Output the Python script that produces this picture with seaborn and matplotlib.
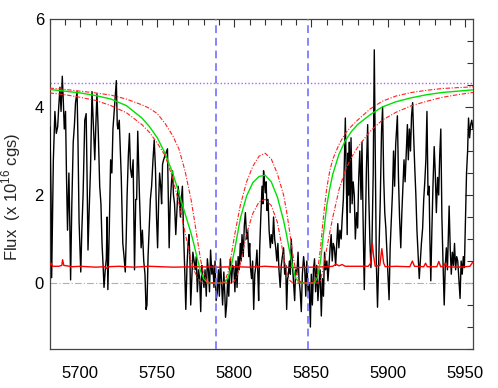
import matplotlib
matplotlib.use("Agg")
import matplotlib.pyplot as plt
import seaborn as sns
from matplotlib.ticker import MultipleLocator

# ---------------- data ----------------
wave = [5680.3, 5681.0, 5681.4, 5682.0, 5682.5, 5683.5, 5684.4, 5685.3, 5686.0, 5686.8,
        5687.5, 5688.3, 5689.0, 5689.6, 5690.4, 5691.0, 5691.7, 5692.6, 5693.2, 5693.7,
        5694.5, 5695.4, 5696.2, 5696.9, 5697.9, 5698.5, 5699.2, 5700.3, 5701.0, 5701.8,
        5702.9, 5703.8, 5704.4, 5705.0, 5705.8, 5706.6, 5707.6, 5708.5, 5709.4, 5710.1,
        5710.8, 5711.7, 5712.6, 5713.4, 5714.1, 5714.8, 5715.4, 5716.2, 5716.9, 5717.4,
        5717.9, 5718.8, 5719.7, 5720.5, 5721.2, 5722.3, 5723.4, 5724.0, 5724.4, 5725.3,
        5726.0, 5726.6, 5727.6, 5728.4, 5729.2, 5729.8, 5730.4, 5731.2, 5731.9, 5732.6,
        5733.4, 5734.3, 5735.2, 5736.0, 5736.6, 5737.3, 5738.4, 5739.5, 5740.3, 5741.2,
        5742.0, 5742.7, 5743.3, 5744.0, 5744.8, 5745.5, 5746.3, 5747.2, 5748.0, 5748.8,
        5749.5, 5750.2, 5750.9, 5751.5, 5752.2, 5752.8, 5753.4, 5754.1, 5755.0, 5755.6,
        5756.6, 5757.2, 5757.7, 5758.4, 5759.2, 5759.9, 5760.5, 5761.2, 5762.0, 5762.8,
        5763.5, 5764.2, 5765.0, 5765.6, 5766.3, 5767.0, 5767.8, 5768.5, 5769.3, 5770.0,
        5770.6, 5771.2, 5771.7, 5772.4, 5773.1, 5773.9, 5774.6, 5775.3, 5776.0, 5776.8,
        5777.5, 5778.2, 5778.9, 5779.6, 5780.3, 5781.0, 5781.8, 5782.5, 5783.2, 5783.9,
        5784.6, 5785.4, 5786.1, 5786.8, 5787.5, 5788.2, 5789.0, 5789.7, 5790.3, 5791.0,
        5791.7, 5792.4, 5793.2, 5793.9, 5794.3, 5795.0, 5795.7, 5796.4, 5797.0, 5797.5,
        5798.2, 5798.9, 5799.7, 5800.4, 5801.1, 5801.8, 5802.5, 5803.2, 5803.9, 5804.5,
        5805.0, 5805.8, 5806.5, 5807.2, 5808.0, 5808.7, 5809.4, 5810.0, 5810.5, 5811.2,
        5811.9, 5812.6, 5813.3, 5814.0, 5814.7, 5815.3, 5815.8, 5816.5, 5817.2, 5818.0,
        5818.6, 5819.0, 5819.6, 5820.1, 5820.7, 5821.2, 5821.9, 5822.6, 5823.4, 5824.0,
        5824.8, 5825.5, 5826.2, 5826.9, 5827.6, 5828.3, 5829.0, 5829.8, 5830.5, 5831.2,
        5832.0, 5832.7, 5833.4, 5834.0, 5834.6, 5835.0, 5835.8, 5836.4, 5837.0, 5837.6,
        5838.3, 5839.2, 5839.8, 5840.6, 5841.4, 5842.0, 5842.8, 5843.5, 5844.2, 5845.0,
        5845.7, 5846.4, 5847.1, 5847.9, 5848.6, 5849.4, 5850.0, 5850.7, 5851.4, 5852.1,
        5852.8, 5853.5, 5854.3, 5855.0, 5855.7, 5856.5, 5857.2, 5857.9, 5858.6, 5859.3,
        5860.1, 5860.8, 5861.5, 5862.2, 5862.9, 5863.6, 5864.3, 5865.0, 5865.8, 5866.5,
        5867.2, 5867.9, 5868.6, 5869.4, 5870.1, 5870.8, 5871.5, 5872.1, 5872.8, 5873.3,
        5873.7, 5874.2, 5874.7, 5875.2, 5875.8, 5876.5, 5877.2, 5877.9, 5878.6, 5879.4,
        5880.1, 5880.8, 5881.5, 5882.3, 5882.9, 5883.6, 5884.4, 5885.1, 5885.8, 5886.6,
        5887.3, 5888.0, 5888.7, 5889.4, 5890.2, 5890.9, 5891.5, 5892.2, 5893.0, 5893.6,
        5894.1, 5894.8, 5895.6, 5896.3, 5897.0, 5897.7, 5898.4, 5899.1, 5899.8, 5900.5,
        5901.2, 5902.0, 5902.7, 5903.4, 5904.1, 5904.8, 5905.9, 5906.6, 5907.3, 5908.1,
        5908.8, 5909.5, 5910.2, 5910.9, 5911.7, 5912.4, 5913.0, 5913.7, 5914.4, 5915.1,
        5915.8, 5916.5, 5917.2, 5917.9, 5918.6, 5919.4, 5920.1, 5920.8, 5921.5, 5922.3,
        5923.0, 5923.7, 5924.4, 5925.1, 5925.8, 5926.5, 5927.0, 5927.6, 5928.3, 5929.0,
        5929.8, 5930.5, 5931.2, 5932.0, 5932.7, 5933.4, 5934.1, 5934.8, 5935.5, 5936.3,
        5937.0, 5937.7, 5938.4, 5939.0, 5939.5, 5940.2, 5940.9, 5941.6, 5942.3, 5943.0,
        5943.7, 5944.4, 5945.1, 5945.8, 5946.6, 5947.3, 5948.0, 5948.7, 5949.4, 5950.1,
        5950.8, 5951.5, 5952.1, 5952.8, 5953.5, 5954.2, 5955.0]
flux = [3.55, 2.0, 0.12, 1.5, 2.8, 3.9, 3.4, 3.55, 4.0, 4.45,
        3.9, 4.7, 4.1, 3.5, 3.9, 2.5, 1.2, 2.5, 1.3, 0.07,
        1.8, 3.2, 3.6, 4.1, 4.35, 3.2, 1.4, 0.25, 1.2, 2.0,
        3.7, 3.85, 2.4, 0.75, 1.7, 2.55, 4.35, 3.6, 2.8, 3.6,
        4.3, 3.4, 2.2, 1.8, 0.9, 0.4, -0.1, 0.3, 0.55, 1.5,
        -0.15, 1.2, 2.8, 2.5, 3.5, 4.05, 4.6, 3.6, 3.5, 3.7,
        3.0, 2.4, 0.9, 0.6, 0.25, 1.0, 2.0, 2.9, 3.4, 2.6,
        2.4, 2.8, 0.3, 1.9, 1.9, 3.45, 2.0, 0.8, 1.2, 0.5,
        0.2, -0.6, -0.5, 0.6, 1.3, 1.9, 2.2, 2.8, 3.25, 2.6,
        1.5, 0.8, 1.9, 2.5, 2.2, 1.8, 2.7, 2.8, 2.9, 2.95,
        3.05, 1.8, 0.8, 1.8, 2.3, 2.55, 2.0, 1.8, 1.1, 1.7,
        2.2, 2.0, 1.5, 1.9, 2.2, 1.2, 0.3, -0.6, 0.4, 0.9,
        1.1, 0.5, -0.5, 0.1, 0.7, 0.5, 0.3, 0.6, -0.2, 0.3,
        0.1, -0.65, 0.4, 0.1, -0.1, 0.3, -0.3, 0.55, 0.3, -0.2,
        0.75, 0.2, 0.4, -0.1, 0.5, -0.4, -0.2, 0.3, -0.3, 0.55,
        0.0, -0.5, 0.25, -0.3, -0.78, -0.5, 0.1, -0.3, 0.3, 0.55,
        0.0, 0.4, 0.35, -0.2, 0.5, -0.1, 0.6, 0.3, 0.9, 0.5,
        1.1, 0.6, 1.3, 1.6, 1.0, 1.2, 0.6, 0.9, 0.35, 0.1,
        0.5, -0.6, 0.2, 0.4, 0.75, 0.2, -0.4, 0.8, 1.5, 2.2,
        1.8, 2.55, 2.3, 2.05, 2.3, 1.65, 1.9, 1.2, 0.8, 1.1,
        0.9, 1.5, 1.0, 0.8, 0.5, 0.9, 0.3, -0.1, 0.4, 0.6,
        0.8, 0.2, 0.4, -0.6, 0.1, 0.15, 0.5, 0.2, 1.0, 0.5,
        0.1, -0.4, 0.3, 0.2, 0.7, 0.1, -0.2, -0.65, 0.2, 0.6,
        0.35, -0.3, 0.5, -0.2, 0.0, -1.0, 0.2, -0.5, 0.3, 0.55,
        -0.2, 0.4, -0.4, 0.0, 0.3, -0.75, 0.1, -0.3, 0.7, 0.3,
        0.5, 0.05, 0.4, 0.8, 1.1, 0.5, 0.9, 0.8, 0.4, 0.9,
        1.35, 0.8, 1.2, 1.0, 1.5, 1.9, 2.8, 3.75, 2.2, 1.1,
        2.95, 2.0, 3.2, 1.6, 3.3, 1.8, 2.3, 2.0, 1.0, 1.6,
        1.25, 2.4, 3.0, 1.9, 3.2, 1.5, -0.15, 1.2, 2.6, 3.6,
        2.0, 1.0, 0.35, 0.9, 2.5, 5.3, 3.0, 0.5, -0.55, 0.3,
        1.1, 1.9, 3.45, 4.0, 2.4, 1.6, 1.25, 0.7, 0.2, -0.38,
        0.8, 1.5, 2.05, 3.0, 2.2, 3.15, 3.8, 2.4, 1.5, 0.8,
        1.6, 2.2, 2.8, 2.3, 3.0, 3.6, 2.8, 3.5, 3.0, 3.8,
        4.1, 3.3, 2.6, 2.0, 1.2, 0.6, 0.1, 0.5, 0.9, 1.25,
        1.9, 2.3, 2.8, 3.9, 2.0, 2.2, 1.0, 0.05, 1.2, 2.2,
        3.1, 2.5, 1.6, 2.4, 2.0, 2.9, 3.5, 1.5, 0.5, -0.5,
        0.4, 0.8, 0.3, 1.1, 1.75, 0.8, 0.2, 0.7, 0.4, 0.9,
        0.3, 0.6, 0.5, 0.1, -0.35, 0.5, 0.2, 0.6, 0.35, 1.4,
        2.5, 3.0, 3.75, 3.3, 3.6, 3.7, 3.5]

model_wave = [5680, 5690, 5700, 5710, 5720, 5730, 5740, 5745, 5750, 5755,
              5760, 5764, 5768, 5772, 5774, 5776, 5778, 5780, 5782, 5784,
              5788, 5792, 5794, 5796, 5798, 5800, 5802, 5804, 5808, 5812,
              5816, 5820, 5824, 5828, 5832, 5834, 5836, 5838, 5840, 5842,
              5844, 5848, 5852, 5854, 5856, 5858, 5860, 5862, 5864, 5868,
              5872, 5876, 5880, 5888, 5896, 5905, 5915, 5925, 5935, 5945,
              5955]
model_best = [4.40, 4.36, 4.32, 4.26, 4.18, 4.03, 3.75, 3.55, 3.30, 2.95,
              2.50, 2.05, 1.58, 1.12, 0.85, 0.55, 0.28, 0.10, 0.03, 0.0,
              0.0, 0.0, 0.02, 0.12, 0.38, 0.72, 1.10, 1.48, 1.98, 2.28,
              2.42, 2.45, 2.30, 1.95, 1.42, 1.08, 0.70, 0.35, 0.10, 0.02,
              0.0, 0.0, 0.0, 0.12, 0.50, 1.15, 1.75, 2.15, 2.48, 2.93,
              3.23, 3.44, 3.60, 3.82, 4.00, 4.12, 4.21, 4.28, 4.33, 4.36,
              4.39]
model_high = [4.43, 4.40, 4.36, 4.32, 4.27, 4.18, 4.05, 3.97, 3.85, 3.63,
              3.35, 3.05, 2.55, 1.88, 1.45, 1.00, 0.55, 0.22, 0.06, 0.01,
              0.0, 0.0, 0.05, 0.25, 0.62, 1.05, 1.42, 1.78, 2.30, 2.65,
              2.88, 2.95, 2.82, 2.48, 2.00, 1.62, 1.15, 0.65, 0.25, 0.06,
              0.01, 0.0, 0.02, 0.25, 0.80, 1.55, 2.15, 2.55, 2.82, 3.15,
              3.40, 3.56, 3.70, 3.95, 4.13, 4.25, 4.33, 4.38, 4.42, 4.44,
              4.46]
model_low = [4.32, 4.28, 4.22, 4.15, 4.03, 3.87, 3.60, 3.42, 3.18, 2.90,
             2.38, 1.82, 1.15, 0.50, 0.28, 0.12, 0.04, 0.0, 0.0, 0.0,
             0.0, 0.0, 0.0, 0.0, 0.0, 0.04, 0.18, 0.45, 1.12, 1.58,
             1.84, 1.90, 1.76, 1.38, 0.62, 0.25, 0.06, 0.0, 0.0, 0.0,
             0.0, 0.0, 0.0, 0.0, 0.06, 0.38, 0.78, 1.15, 1.50, 2.12,
             2.55, 2.85, 3.08, 3.44, 3.70, 3.88, 4.03, 4.13, 4.22, 4.28,
             4.33]

err_wave = [5680, 5681, 5682, 5686, 5688, 5688.5, 5689.3, 5695, 5700, 5710,
            5716, 5717, 5718, 5725, 5735, 5745, 5760, 5775, 5790, 5800,
            5810, 5820, 5830, 5840, 5850, 5860, 5864, 5866, 5868, 5870,
            5872, 5880, 5887, 5888.5, 5889.6, 5890.5, 5891.5, 5894.5, 5895.8, 5897,
            5898, 5905, 5914, 5915.6, 5917, 5923, 5924.2, 5925.3, 5931.5, 5932.8,
            5934, 5936, 5937, 5938, 5945, 5950, 5953, 5955]
err_flux = [0.40, 0.45, 0.38, 0.38, 0.40, 0.53, 0.40, 0.37, 0.38, 0.36,
            0.37, 0.33, 0.37, 0.38, 0.36, 0.38, 0.36, 0.37, 0.36, 0.37,
            0.36, 0.38, 0.36, 0.35, 0.36, 0.37, 0.38, 0.43, 0.39, 0.42,
            0.38, 0.38, 0.38, 0.45, 0.90, 0.60, 0.38, 0.40, 0.78, 0.45,
            0.37, 0.38, 0.37, 0.50, 0.38, 0.37, 0.45, 0.37, 0.37, 0.49,
            0.37, 0.38, 0.45, 0.37, 0.36, 0.37, 0.38, 0.48]

line_centers = [5788, 5848]
continuum_level = 4.55
x_ticks = [5700, 5750, 5800, 5850, 5900, 5950]
x_tick_labels = ["5700", "5750", "5800", "5850", "5900", "5950"]
y_ticks = [0, 2, 4, 6]
y_tick_labels = ["0", "2", "4", "6"]
y_label = "Flux  (x 10$^{16}$ cgs)"

# ---------------- plotting ----------------
sns.set_style("white")
plt.rcParams['font.family'] = ['Liberation Sans', 'DejaVu Sans']
plt.rcParams['mathtext.fontset'] = 'custom'
plt.rcParams['mathtext.rm'] = 'Liberation Sans'

fig = plt.figure(figsize=(4.98, 3.88), dpi=100)
ax = fig.add_axes([0.0994, 0.1005, 0.8504, 0.8505])

ax.axhline(0, color='#b0b0b0', lw=0.8, ls=(0, (6, 2, 1, 2)), zorder=1)
ax.axhline(continuum_level, color='#b060ff', lw=1.0, ls=(0, (1, 1.5)), zorder=2)

sns.lineplot(x=wave, y=flux, ax=ax, color='black', lw=1.0,
             estimator=None, sort=False, legend=False, zorder=3)
sns.lineplot(x=err_wave, y=err_flux, ax=ax, color='#ff0000', lw=1.0,
             estimator=None, sort=False, legend=False, zorder=4)
sns.lineplot(x=model_wave, y=model_best, ax=ax, color='#00e000', lw=1.0,
             estimator=None, sort=False, legend=False, zorder=5)
for m in (model_high, model_low):
    sns.lineplot(x=model_wave, y=m, ax=ax, color='#ff2020', lw=0.8,
                 linestyle=(0, (4, 1.5, 1, 1.5)),
                 estimator=None, sort=False, legend=False, zorder=5)
for c in line_centers:
    ax.axvline(c, color='#7070ff', lw=1.4, ls=(0, (4, 2.5)), alpha=0.85, zorder=6)

ax.set_xlim(5680, 5955)
ax.set_ylim(-1.5, 6)
ax.set_xticks(x_ticks)
ax.set_xticklabels(x_tick_labels)
ax.set_yticks(y_ticks)
ax.set_yticklabels(y_tick_labels)
ax.xaxis.set_minor_locator(MultipleLocator(10))
ax.yaxis.set_minor_locator(MultipleLocator(0.5))
ax.tick_params(which='both', direction='in', top=True, right=True,
               color='#333333', labelsize=12, labelcolor='black')
ax.tick_params(which='major', length=6, width=0.8)
ax.tick_params(which='minor', length=4, width=0.8)
ax.tick_params(axis='x', which='major', pad=12)
ax.tick_params(axis='y', which='major', pad=4)
for s in ax.spines.values():
    s.set_color('#444444')
    s.set_linewidth(0.9)

ax.set_xlabel("")
ax.set_ylabel(y_label, fontsize=12)
ax.yaxis.set_label_coords(-0.062, 0.46)

fig.savefig("out.png", dpi=100)
